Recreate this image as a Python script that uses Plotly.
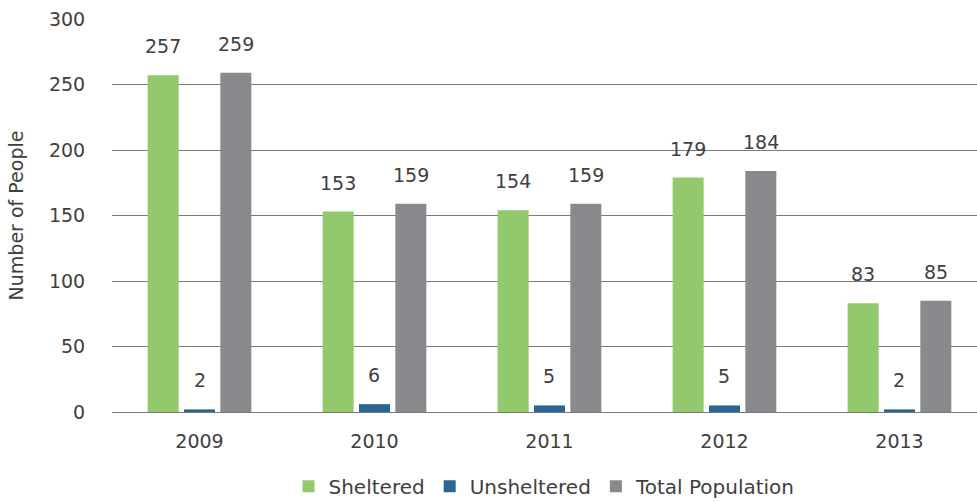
import plotly.graph_objects as go

years = ["2009", "2010", "2011", "2012", "2013"]
sheltered = [257, 153, 154, 179, 83]
unsheltered = [2, 6, 5, 5, 2]
total_population = [259, 159, 159, 184, 85]

series = [
    ("Sheltered", sheltered, "#92C96C"),
    ("Unsheltered", unsheltered, "#2C6592"),
    ("Total Population", total_population, "#898A8E"),
]

FONT = "DejaVu Sans"
TEXT = "#404040"
BARGAP = 0.377

fig = go.Figure()
for name, vals, color in series:
    fig.add_trace(go.Bar(x=years, y=vals, name=name, marker_color=color,
                         marker_line_width=0))

# value labels sit a fixed distance above each bar
slot = (1 - BARGAP) / len(series)
for i, (name, vals, color) in enumerate(series):
    offset = (i - (len(series) - 1) / 2) * slot
    for j, v in enumerate(vals):
        fig.add_annotation(x=j + offset, y=v, text=str(v), showarrow=False,
                           yshift=29, font=dict(family=FONT, size=19, color=TEXT))

fig.update_layout(
    width=977, height=502,
    margin=dict(l=112, r=0, t=19, b=90, autoexpand=False),
    paper_bgcolor="white", plot_bgcolor="white",
    barmode="group", bargap=BARGAP, bargroupgap=0.147,
    font=dict(family=FONT, size=19, color=TEXT),
    legend=dict(orientation="h", x=0.5, xanchor="center",
                yref="container", y=0.07, yanchor="top",
                font=dict(family=FONT, size=20, color=TEXT), itemwidth=30),
    showlegend=True,
)
fig.update_xaxes(range=[-0.5, 4.443], showgrid=False, showline=False, automargin=False,
                 ticks="outside", ticklen=12, tickcolor="rgba(0,0,0,0)",
                 tickfont=dict(family=FONT, size=19, color=TEXT))
fig.update_yaxes(range=[0, 300], dtick=50, showgrid=True, gridcolor="#7A7A7A",
                 gridwidth=1, zeroline=True, zerolinecolor="#7A7A7A", zerolinewidth=1,
                 automargin=False,
                 ticks="outside", ticklen=22, tickcolor="rgba(0,0,0,0)",
                 tickfont=dict(family=FONT, size=19, color=TEXT),
                 title=dict(text="Number of People", standoff=20,
                            font=dict(family=FONT, size=19, color=TEXT)))

fig.write_html("out.html")
